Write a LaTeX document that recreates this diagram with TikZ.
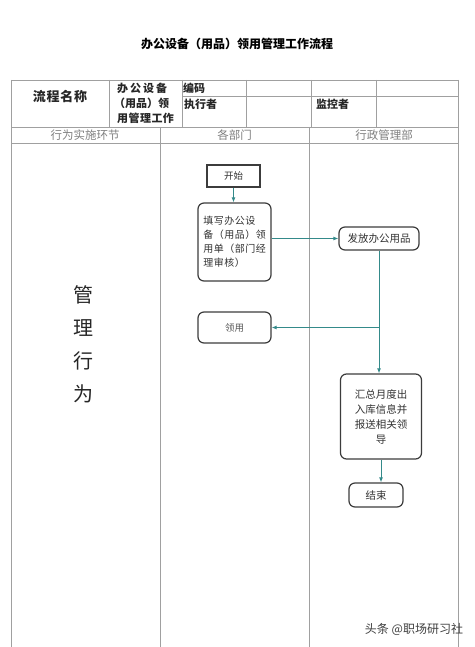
\documentclass[tikz,border=0pt]{standalone}
\usepackage{fontspec}
\setmainfont{Noto Sans CJK SC}
\usetikzlibrary{arrows.meta}
\definecolor{flowc}{RGB}{52,138,138}
\definecolor{gridc}{RGB}{160,160,160}
\definecolor{boxc}{RGB}{60,60,60}
\tikzset{
  grid/.style={draw=gridc, line width=0.8pt},
  plainbox/.style={draw=boxc, line width=1.2pt, inner sep=0pt, text=black!80, font=\fontsize{9.5}{13}\selectfont},
  roundbox/.style={plainbox, rounded corners=6pt},
  flow/.style={draw=flowc, line width=1pt, -{Latex[length=5pt,width=4pt]}},
  cell/.style={inner sep=0pt, font=\fontsize{11}{13}\selectfont\bfseries, text=black!85},
  lanehead/.style={inner sep=0pt, font=\fontsize{11.5}{13}\selectfont, text=black!50}
}
\begin{document}
\begin{tikzpicture}[x=1pt,y=-1pt]
\useasboundingbox[fill=white] (0,0) rectangle (474,647);
% title
\node[inner sep=0pt, font=\fontsize{12}{14}\selectfont\bfseries] (title) at (237,44) {办公设备（用品）领用管理工作流程};
% table grid
\draw[grid] (11,80) -- (458,80);
\draw[grid] (182,96) -- (458,96);
\draw[grid] (11,127) -- (458,127);
\draw[grid] (11,143) -- (458,143);
\draw[grid] (11,80) -- (11,647);
\draw[grid] (458,80) -- (458,647);
\foreach \x in {109,182,246,311,376} \draw[grid] (\x,80) -- (\x,127);
\foreach \x in {160,309} \draw[grid] (\x,127) -- (\x,647);
% table texts
\node[cell, font=\fontsize{13}{15}\selectfont\bfseries\addfontfeature{LetterSpace=6}] (name) at (60,97) {流程名称};
\node[cell, anchor=west] (n1) at (117,88) {\makebox[50pt]{办\hfill 公\hfill 设\hfill 备}};
\node[cell, anchor=west] (n2) at (114,103) {（用品）领};
\node[cell, anchor=west, font=\fontsize{11}{13}\selectfont\bfseries\addfontfeature{LetterSpace=4}] (n3) at (117,118) {用管理工作};
\node[cell, anchor=west] (code) at (183,88) {编码};
\node[cell, anchor=west] (exec) at (184,104) {执行者};
\node[cell, anchor=west] (mon) at (316,104) {监控者};
\node[lanehead] (h1) at (85,135) {行为实施环节};
\node[lanehead] (h2) at (234.5,135) {各部门};
\node[lanehead] (h3) at (384,135) {行政管理部};
% side label
\node[inner sep=0pt, align=center, font=\fontsize{20}{33}\selectfont, text=black!85] (side) at (83,344) {管\\理\\行\\为};
% flow nodes
\node[plainbox, minimum width=53pt, minimum height=22pt] (start) at (233.5,176) {开始};
\node[roundbox, minimum width=73pt, minimum height=78pt, align=left, font=\fontsize{10}{14}\selectfont\addfontfeature{LetterSpace=5}] (fill) at (234.5,242) {填写办公设\\备（用品）领\\用单（部门经\\理审核）};
\node[roundbox, minimum width=80pt, minimum height=23pt, font=\fontsize{10.5}{13}\selectfont] (issue) at (379,238.5) {发放办公用品};
\node[roundbox, minimum width=73pt, minimum height=31pt, text=black!65] (take) at (234.5,327.5) {领用};
\node[roundbox, minimum width=81pt, minimum height=85pt, align=center, font=\fontsize{10.5}{15}\selectfont] (sum) at (381,416.5) {汇总月度出\\入库信息并\\报送相关领\\导};
\node[roundbox, minimum width=54pt, minimum height=24pt, font=\fontsize{10.5}{13}\selectfont] (end) at (376,495) {结束};
% connectors
\coordinate (split) at (issue.south |- take.east);
\draw[flow] (start.south) -- (start.south |- fill.north);
\draw[flow] (fill.east |- issue.west) -- (issue.west);
\draw[flow] (issue.south) -- (issue.south |- sum.north);
\draw[flow] (split) -- (take.east);
\draw[flow] (sum.south) -- (sum.south |- end.north);
% watermark
\node[inner sep=0pt, font=\fontsize{12}{13}\selectfont, text=black!75] (wm) at (414,629) {头条 @职场研习社};
\end{tikzpicture}
\end{document}
